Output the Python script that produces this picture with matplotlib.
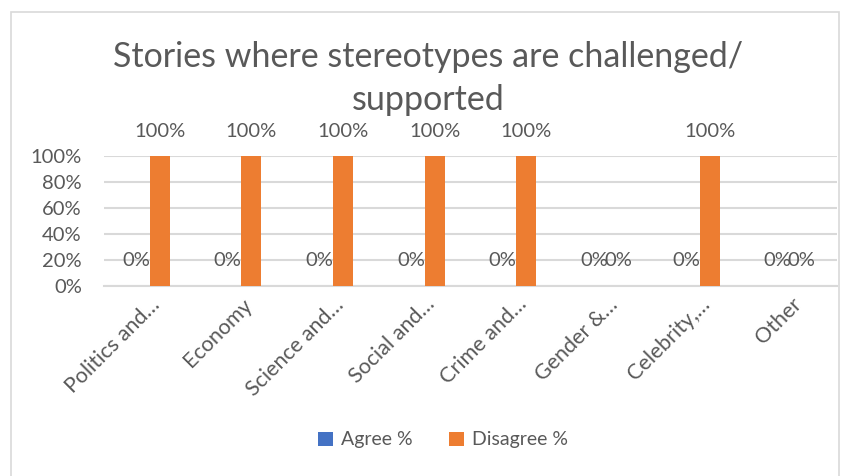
import numpy as np
import matplotlib.pyplot as plt
from matplotlib.patches import Rectangle
from matplotlib.ticker import PercentFormatter

plt.rcParams['font.family'] = ['Lato', 'DejaVu Sans']

categories = ["Politics and…", "Economy", "Science and…", "Social and…",
              "Crime and…", "Gender &…", "Celebrity,…", "Other"]
agree = [0, 0, 0, 0, 0, 0, 0, 0]
disagree = [1, 1, 1, 1, 1, 0, 1, 0]

blue = '#4472C4'
orange = '#ED7D31'
grey_txt = '#595959'
grid_c = '#D9D9D9'
fs = 14.5

fig = plt.figure(figsize=(8.56, 4.76), dpi=100)
# chart border
fig.patches.append(Rectangle((11/856, -0.1), (839-11)/856, 1.1 - 12/476,
                             transform=fig.transFigure, fill=False,
                             edgecolor='#D9D9D9', linewidth=1.2))

ax = fig.add_axes([104/856, 1-286/476, (837-104)/856, 130/476])
x = np.arange(len(categories))
w = 0.218
ax.bar(x - w/2, agree, w, color=blue, label='Agree %', zorder=3)
ax.bar(x + w/2, disagree, w, color=orange, label='Disagree %', zorder=3)

# data labels (zero values sit at the 20% line like in the original)
for i in range(len(categories)):
    for xv, v in [(x[i] - w/2 - 0.04, agree[i]), (x[i] + w/2, disagree[i])]:
        yv = 0.2 if v == 0 else v + 0.19
        ax.text(xv, yv, f'{v:.0%}', ha='center', va='center', fontsize=fs, color=grey_txt)

ax.set_xlim(-0.5, len(categories) - 0.5)
ax.set_ylim(0, 1)
ax.set_yticks(np.arange(0, 1.01, 0.2))
ax.yaxis.set_major_formatter(PercentFormatter(1.0, decimals=0))
ax.grid(axis='y', color=grid_c, linewidth=1.5, zorder=0)
for s in ['top', 'right', 'left']:
    ax.spines[s].set_visible(False)
ax.spines['bottom'].set_color(grid_c)
ax.spines['bottom'].set_linewidth(1.5)
ax.tick_params(axis='both', length=0, labelsize=fs, labelcolor=grey_txt)
ax.tick_params(axis='y', pad=16)
ax.set_xticks(x)
ax.set_xticklabels(categories, rotation=45, ha='right', rotation_mode='anchor', fontsize=15.5)
ax.tick_params(axis='x', pad=6)

fig.text(0.5, 1 - 57/476, 'Stories where stereotypes are challenged/', ha='center', va='center',
         fontsize=24.5, color=grey_txt)
fig.text(0.5, 1 - 100/476, 'supported', ha='center', va='center',
         fontsize=24.5, color=grey_txt)

fig.legend(loc='center', bbox_to_anchor=(443/856, 1 - 440/476), ncol=2, frameon=False,
           fontsize=14, labelcolor=grey_txt, handlelength=0.75, handleheight=0.75,
           handletextpad=0.4, columnspacing=1.9)

fig.savefig('out.png', dpi=100)
